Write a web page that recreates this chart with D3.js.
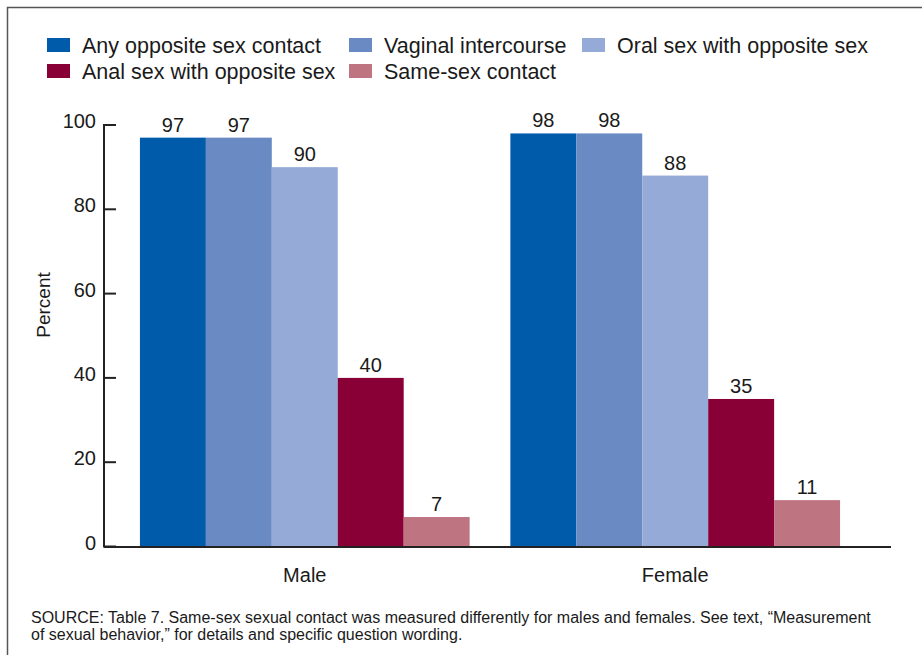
<!DOCTYPE html>
<html>
<head>
<meta charset="utf-8">
<script src="https://cdn.jsdelivr.net/npm/d3@7"></script>
<style>
  html, body { margin: 0; padding: 0; background: #fff; }
  svg { display: block; }
  text { font-family: "Liberation Sans", Arial, Helvetica, sans-serif; fill: #1a1a1a; }
</style>
</head>
<body>
<svg id="chart" width="922" height="655"></svg>
<script>
const groups = ["Male", "Female"];
const series = ["Any opposite sex contact", "Vaginal intercourse", "Oral sex with opposite sex", "Anal sex with opposite sex", "Same-sex contact"];
const maleValues = [97, 97, 90, 40, 7];
const femaleValues = [98, 98, 88, 35, 11];
const colors = ["#005BAA", "#6A8AC4", "#96AAD8", "#880035", "#BF7482"];
const yTicks = [0, 20, 40, 60, 80, 100];
const yTitle = "Percent";
const sourceLines = [
  "SOURCE: Table 7. Same-sex sexual contact was measured differently for males and females. See text, \u201cMeasurement",
  "of sexual behavior,\u201d for details and specific question wording."
];

const valuesByGroup = { Male: maleValues, Female: femaleValues };
const svg = d3.select("#chart");

// frame
svg.append("rect")
  .attr("x", 7.5).attr("y", 7.5)
  .attr("width", 930).attr("height", 660)
  .attr("fill", "none").attr("stroke", "#555").attr("stroke-width", 1.5);

// scales
const y = d3.scaleLinear().domain([0, 100]).range([546.5, 125]);
const x0 = d3.scaleBand().domain(groups).range([104, 876]).paddingInner(0.11).paddingOuter(0.097);
const x1 = d3.scaleBand().domain(series).range([0, x0.bandwidth()]).padding(0);
const color = d3.scaleOrdinal().domain(series).range(colors);

// bars
const g = svg.append("g");
groups.forEach(grp => {
  const gg = g.append("g").attr("transform", `translate(${x0(grp)},0)`);
  const data = series.map((s, i) => ({ s, v: valuesByGroup[grp][i] }));
  gg.selectAll("rect").data(data).join("rect")
    .attr("x", d => x1(d.s))
    .attr("y", d => y(d.v))
    .attr("width", x1.bandwidth())
    .attr("height", d => y(0) - y(d.v))
    .attr("fill", d => color(d.s));
  gg.selectAll("text.val").data(data).join("text")
    .attr("class", "val")
    .attr("x", d => x1(d.s) + x1.bandwidth() / 2)
    .attr("y", d => y(d.v) - 6)
    .attr("text-anchor", "middle")
    .attr("font-size", 20)
    .text(d => d.v);
});

// y axis
const axisX = 104;
svg.append("line")
  .attr("x1", axisX).attr("x2", axisX)
  .attr("y1", y(100) - 1).attr("y2", y(0) + 1)
  .attr("stroke", "#222").attr("stroke-width", 2);
svg.selectAll("line.tick").data(yTicks).join("line")
  .attr("class", "tick")
  .attr("x1", axisX).attr("x2", axisX + 12)
  .attr("y1", d => y(d)).attr("y2", d => y(d))
  .attr("stroke", "#222").attr("stroke-width", 2);
svg.selectAll("text.ytick").data(yTicks).join("text")
  .attr("class", "ytick")
  .attr("x", 96)
  .attr("y", d => y(d) + 3)
  .attr("text-anchor", "end")
  .attr("font-size", 20)
  .text(d => d);

// x baseline
svg.append("line")
  .attr("x1", axisX).attr("x2", 891)
  .attr("y1", y(0) + 0.5).attr("y2", y(0) + 0.5)
  .attr("stroke", "#222").attr("stroke-width", 2);

// group labels
svg.selectAll("text.grp").data(groups).join("text")
  .attr("class", "grp")
  .attr("x", d => x0(d) + x0.bandwidth() / 2)
  .attr("y", 582)
  .attr("text-anchor", "middle")
  .attr("font-size", 20)
  .text(d => d);

// y title
svg.append("text")
  .attr("transform", "translate(50,305) rotate(-90)")
  .attr("text-anchor", "middle")
  .attr("font-size", 19)
  .text(yTitle);

// legend
const legendPos = [[47, 38], [349, 38], [582, 38], [47, 64], [349, 64]];
series.forEach((s, i) => {
  const [lx, ly] = legendPos[i];
  svg.append("rect").attr("x", lx).attr("y", ly).attr("width", 23).attr("height", 14).attr("fill", color(s));
  svg.append("text").attr("x", lx + 35).attr("y", ly + 14.5).attr("font-size", 21.5).text(s);
});

// source
svg.selectAll("text.src").data(sourceLines).join("text")
  .attr("class", "src")
  .attr("x", 31)
  .attr("y", (d, i) => 623 + i * 17)
  .attr("font-size", 16)
  .text(d => d);
</script>
</body>
</html>
